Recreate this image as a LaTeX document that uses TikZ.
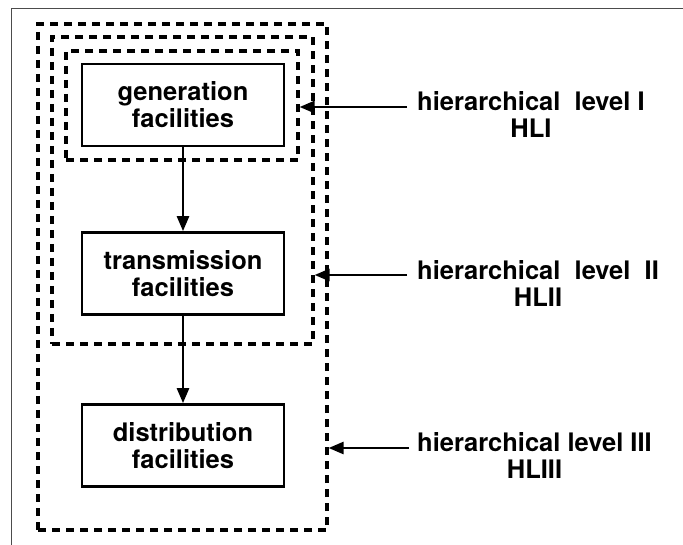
\documentclass[tikz,border=0pt]{standalone}
\usepackage{fontspec}
\setmainfont{TeX Gyre Heros}
\usetikzlibrary{arrows.meta}
\begin{document}
\begin{tikzpicture}[x=1pt,y=-1pt,
  txt/.style={font=\fontsize{25.5}{27}\selectfont\bfseries},
  box/.style={txt, draw, line width=2.7pt, minimum width=202pt, minimum height=82pt, inner sep=0pt, align=center},
  lvl/.style={draw, dash pattern=on 8pt off 6pt, line width=3.2pt, inner sep=0pt},
  flow/.style={line width=2.6pt, -{Triangle[length=15pt,width=12pt]}},
  lab/.style={txt, anchor=west, inner sep=0pt, align=center},
  frame/.style={line width=1.5pt, black!70}
]
\useasboundingbox (0,0) rectangle (683,545);
\draw[frame] (683,8.5) -| (11.5,545);
% level frames
\node[lvl, minimum width=289pt, minimum height=506pt] (L3) at (182.5,277) {};
\node[lvl, minimum width=261pt, minimum height=307pt] (L2) at (182.5,190.5) {};
\node[lvl, minimum width=232pt, minimum height=109pt] (L1) at (182,105.5) {};
% facilities
\node[box] (gen) at (183,105) {generation\\facilities};
\node[box] (trans) at (183,273.5) {transmission\\facilities};
\node[box] (dist) at (183,445.5) {distribution\\facilities};
\draw[flow] (gen) -- (trans);
\draw[flow] (trans) -- (dist);
% labels
\node[lab] (t1) at (417,115) {hierarchical\ \ level I\\HLI};
\node[lab] (t2) at (417,284) {hierarchical\ \ level\ \ II\\HLII};
\node[lab] (t3) at (417,456) {hierarchical level III\\HLIII};
\coordinate (a1) at (407,107);
\coordinate (a2) at (407,275);
\coordinate (a3) at (409,448);
\draw[flow] (a1) -- (a1 -| L1.east);
\draw[flow] (a2) -- (a2 -| L2.east);
\draw[flow] (a3) -- (a3 -| L3.east);
\end{tikzpicture}
\end{document}
